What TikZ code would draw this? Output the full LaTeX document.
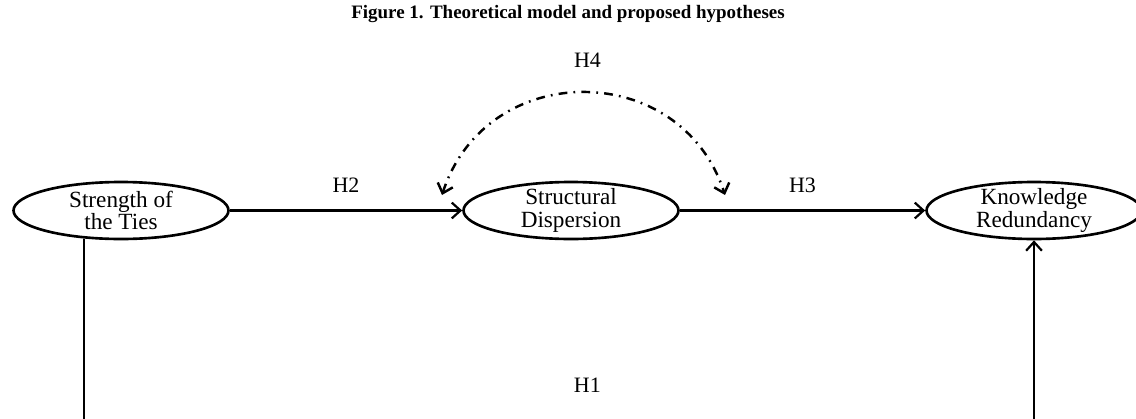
\documentclass[tikz,border=0pt]{standalone}
\usepackage{fontspec}
\setmainfont{Liberation Serif}
\usetikzlibrary{arrows.meta, shapes.geometric}

\begin{document}
\begin{tikzpicture}[
  construct/.style={ellipse, draw=black, line width=1.5pt,
    minimum width=4.3cm, minimum height=1.14cm,
    inner xsep=0pt, inner ysep=-4pt,
    align=center, font=\fontsize{13.2}{12.8}\selectfont},
  link/.style={line width=1.25pt, -{Straight Barb[length=5pt, width=9pt]}},
  twoway/.style={line width=1.4pt,
    dash pattern=on 5pt off 3.5pt on 1pt off 3.5pt,
    {Straight Barb[length=5pt, width=9pt]}-{Straight Barb[length=5pt, width=9pt]}},
  hyp/.style={inner sep=0pt, font=\fontsize{12.5}{14}\selectfont}
]
  % Page frame: 1 px of the figure = 0.02cm
  \useasboundingbox (0,0) rectangle (22.72,8.36);

  \def\rowy{4.15}  % centre line of the three constructs

  % Title
  \node[anchor=base, font=\fontsize{10.8}{12}\selectfont\bfseries] (title)
    at (11.36,7.99) {Figure 1. Theoretical model and proposed hypotheses};

  % Constructs
  \node[construct] (ties)   at (2.42,\rowy)  {Strength of\\the Ties};
  \node[construct] (disp)   at (11.42,\rowy) {Structural\\Dispersion};
  \node[construct] (redund) at (20.68,\rowy) {Knowledge\\Redundancy};

  % Ends of the H4 arc and the bottom line
  \coordinate (h4l) at (8.84,4.46);
  \coordinate (h4r) at (14.5,4.46);
  \coordinate (base) at (0,-0.035);

  % Hypotheses
  \draw[link] (ties) -- node[hyp, above=0.34cm] (lblh2) {H2} (disp);
  \draw[link] (disp) -- node[hyp, above=0.34cm] (lblh3) {H3} (redund);
  \draw[twoway] (h4l) to[out=72, in=108, looseness=1.3]
    node[hyp, above=0.48cm, xshift=0.08cm] (lblh4) {H4} (h4r);
  \draw[link] (ties.217) -- (ties.217 |- base)
    -- node[hyp, above=0.52cm, pos=0.53] (lblh1) {H1} (redund.south |- base)
    -- (redund.south);

\end{tikzpicture}
\end{document}
